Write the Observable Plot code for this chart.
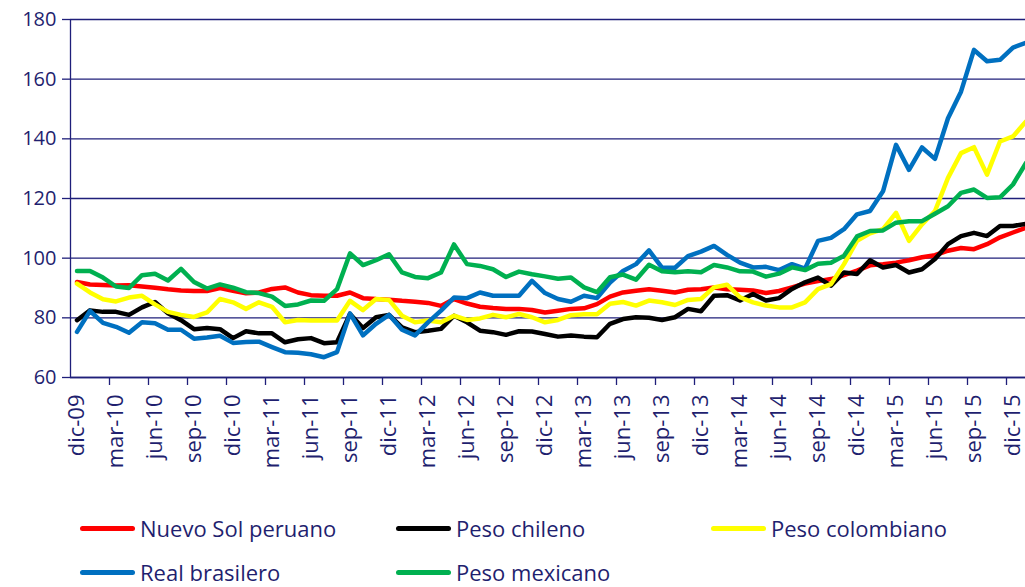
<!DOCTYPE html>
<html>
<head>
<meta charset="utf-8">
<script src="https://cdn.jsdelivr.net/npm/d3@7"></script>
<script src="https://cdn.jsdelivr.net/npm/@observablehq/plot@0.6"></script>
<style>
  html, body { margin: 0; padding: 0; background: #fff; overflow: hidden; }
  #wrap { position: relative; width: 1025px; height: 587px; font-family: "Open Sans", sans-serif; color: #1f1f6f; }
  .lg { position: absolute; display: flex; align-items: center; font-size: 22px; line-height: 24px; height: 24px; white-space: nowrap; }
  .lg .sw { width: 55px; height: 5px; border-radius: 2.5px; margin-right: 5px; }
</style>
</head>
<body>
<div id="wrap"></div>
<script>
const months = ["dic-09",
  "ene-10","feb-10","mar-10","abr-10","may-10","jun-10","jul-10","ago-10","sep-10","oct-10","nov-10","dic-10",
  "ene-11","feb-11","mar-11","abr-11","may-11","jun-11","jul-11","ago-11","sep-11","oct-11","nov-11","dic-11",
  "ene-12","feb-12","mar-12","abr-12","may-12","jun-12","jul-12","ago-12","sep-12","oct-12","nov-12","dic-12",
  "ene-13","feb-13","mar-13","abr-13","may-13","jun-13","jul-13","ago-13","sep-13","oct-13","nov-13","dic-13",
  "ene-14","feb-14","mar-14","abr-14","may-14","jun-14","jul-14","ago-14","sep-14","oct-14","nov-14","dic-14",
  "ene-15","feb-15","mar-15","abr-15","may-15","jun-15","jul-15","ago-15","sep-15","oct-15","nov-15","dic-15",
  "ene-16"];

const tickLabels = ["dic-09","mar-10","jun-10","sep-10","dic-10","mar-11","jun-11","sep-11","dic-11",
  "mar-12","jun-12","sep-12","dic-12","mar-13","jun-13","sep-13","dic-13","mar-14","jun-14","sep-14",
  "dic-14","mar-15","jun-15","sep-15","dic-15"];

const yTicks = [60, 80, 100, 120, 140, 160, 180];

const solPeruano = [92.0, 91.2, 91.0, 90.8, 90.9, 90.5, 90.1, 89.6, 89.2, 89.0,
  89.0, 90.0, 89.1, 88.2, 88.5, 89.7, 90.2, 88.5, 87.6, 87.4,
  87.4, 88.5, 86.6, 86.3, 86.1, 85.7, 85.4, 85.0, 84.0, 86.3,
  84.8, 83.7, 83.3, 83.0, 83.0, 82.6, 81.8, 82.4, 83.0, 83.2,
  84.6, 87.1, 88.5, 89.1, 89.6, 89.1, 88.5, 89.4, 89.6, 90.2,
  89.6, 89.4, 89.2, 88.3, 89.0, 90.2, 91.5, 92.3, 93.0, 94.3,
  95.8, 97.6, 98.0, 98.5, 99.3, 100.3, 101.0, 102.5, 103.4, 103.0,
  104.7, 107.0, 108.6, 110.2];

const pesoChileno = [79.2, 82.5, 82.0, 82.0, 81.0, 83.5, 85.3, 81.5, 79.2, 76.2,
  76.6, 76.2, 73.2, 75.5, 74.8, 74.8, 71.8, 72.8, 73.2, 71.5,
  71.8, 81.3, 76.6, 80.2, 81.0, 76.8, 75.2, 75.7, 76.3, 80.7,
  78.5, 75.7, 75.2, 74.3, 75.5, 75.4, 74.6, 73.7, 74.1, 73.7,
  73.5, 78.0, 79.6, 80.2, 80.0, 79.3, 80.2, 83.0, 82.2, 87.4,
  87.6, 85.8, 88.0, 85.8, 86.6, 89.7, 91.9, 93.5, 90.8, 95.2,
  94.7, 99.3, 96.9, 97.7, 95.2, 96.3, 99.7, 104.7, 107.4, 108.5,
  107.4, 110.8, 110.8, 111.5];

const pesoColombiano = [91.5, 88.5, 86.2, 85.5, 86.8, 87.4, 84.5, 82.0, 81.0, 80.3,
  81.8, 86.3, 85.2, 83.0, 85.2, 83.7, 78.5, 79.3, 79.1, 79.1,
  79.1, 85.7, 82.6, 86.3, 86.0, 80.7, 78.5, 79.1, 78.5, 80.7,
  79.3, 79.8, 81.0, 80.2, 81.3, 80.2, 78.5, 79.3, 80.9, 81.2,
  81.2, 84.7, 85.3, 84.1, 85.8, 85.2, 84.3, 86.0, 86.3, 90.2,
  91.1, 86.9, 85.2, 84.1, 83.5, 83.5, 85.2, 89.6, 91.3, 98.0,
  105.8, 108.3, 109.7, 115.2, 105.8, 111.3, 115.8, 126.9, 135.2, 137.2,
  128.0, 139.1, 140.8, 145.8];

const realBrasilero = [75.3, 82.3, 78.3, 77.0, 75.0, 78.5, 78.2, 76.0, 76.0, 73.0,
  73.4, 74.0, 71.6, 71.9, 72.0, 70.2, 68.5, 68.3, 67.8, 66.8,
  68.5, 81.5, 74.1, 78.0, 81.0, 76.0, 74.1, 78.5, 82.4, 86.8,
  86.6, 88.5, 87.4, 87.4, 87.4, 92.4, 88.3, 86.3, 85.4, 87.4,
  86.6, 91.8, 95.7, 98.0, 102.6, 96.8, 96.8, 100.7, 102.2, 104.1,
  101.1, 98.5, 96.9, 97.1, 96.0, 98.0, 96.5, 105.8, 106.8, 109.7,
  114.7, 115.8, 122.4, 138.0, 129.6, 137.1, 133.3, 146.9, 155.8, 169.8,
  166.0, 166.5, 170.6, 172.2];

const pesoMexicano = [95.7, 95.7, 93.5, 90.5, 90.0, 94.3, 94.8, 92.5, 96.4, 92.0,
  89.8, 91.2, 90.1, 88.6, 88.3, 87.1, 84.0, 84.5, 85.8, 85.7,
  89.6, 101.6, 97.7, 99.3, 101.3, 95.2, 93.7, 93.3, 95.2, 104.6,
  98.0, 97.4, 96.3, 93.7, 95.5, 94.6, 93.9, 93.1, 93.5, 90.2,
  88.6, 93.6, 94.5, 92.8, 97.8, 95.6, 95.3, 95.6, 95.3, 97.7,
  96.9, 95.6, 95.5, 93.8, 94.8, 96.9, 96.0, 98.1, 98.5, 100.8,
  107.3, 109.1, 109.3, 111.9, 112.4, 112.4, 114.9, 117.4, 121.9, 123.0,
  120.2, 120.4, 124.7, 131.9];

const seriesNames = ["Nuevo Sol peruano", "Peso chileno", "Peso colombiano", "Real brasilero", "Peso mexicano"];
const seriesValues = [solPeruano, pesoChileno, pesoColombiano, realBrasilero, pesoMexicano];
const seriesColors = ["#ff0000", "#000000", "#ffff00", "#0070c0", "#00b050"];

const navy = "#1f1f7a";
const textColor = "#1f1f6f";

const labelIdx = tickLabels.map(l => months.indexOf(l));
const tickBounds = labelIdx.slice(1).map(i => i - 0.5);

const W = 1025, ML = 70, step = 13;
const lineMarks = seriesValues.map((vals, k) =>
  Plot.line(vals.map((v, i) => ({i, v})), {
    x: "i", y: "v", stroke: seriesColors[k], strokeWidth: 4.5, clip: true
  })
);

const chart = Plot.plot({
  width: W,
  height: 490,
  marginLeft: ML,
  marginRight: 0,
  marginTop: 19,
  marginBottom: 113,
  style: { fontFamily: "Open Sans, sans-serif", color: textColor, background: "white" },
  x: { type: "linear", domain: [-0.5, (W - ML) / step - 0.5] },
  y: { domain: [60, 180] },
  marks: [
    Plot.gridY(yTicks, { stroke: navy, strokeOpacity: 1, strokeWidth: 1.3 }),
    Plot.axisY({ ticks: yTicks, tickSize: 8, tickPadding: 6, stroke: navy, strokeWidth: 1.3, fontSize: 20, fill: textColor, label: null }),
    Plot.axisX({ ticks: tickBounds, tickSize: 8, tickFormat: () => "", stroke: navy, strokeWidth: 1.3, label: null }),
    Plot.axisX({ ticks: labelIdx, tickSize: 0, tickPadding: 17, tickRotate: -90, tickFormat: i => months[i], fontSize: 22, fill: textColor, label: null }),
    Plot.ruleX([-0.5], { stroke: navy, strokeWidth: 1.3 }),
    Plot.ruleY([60], { stroke: navy, strokeWidth: 1.3 }),
    ...lineMarks
  ]
});

const wrap = document.getElementById("wrap");
wrap.appendChild(chart);

const legendPos = [
  { left: 80, top: 528 }, { left: 396, top: 528 }, { left: 711, top: 528 },
  { left: 80, top: 572 }, { left: 396, top: 572 }
];
seriesNames.forEach((name, k) => {
  const d = document.createElement("div");
  d.className = "lg";
  d.style.left = legendPos[k].left + "px";
  d.style.top = (legendPos[k].top - 12) + "px";
  const sw = document.createElement("span");
  sw.className = "sw";
  sw.style.background = seriesColors[k];
  const t = document.createElement("span");
  t.textContent = name;
  d.appendChild(sw);
  d.appendChild(t);
  wrap.appendChild(d);
});
</script>
</body>
</html>
